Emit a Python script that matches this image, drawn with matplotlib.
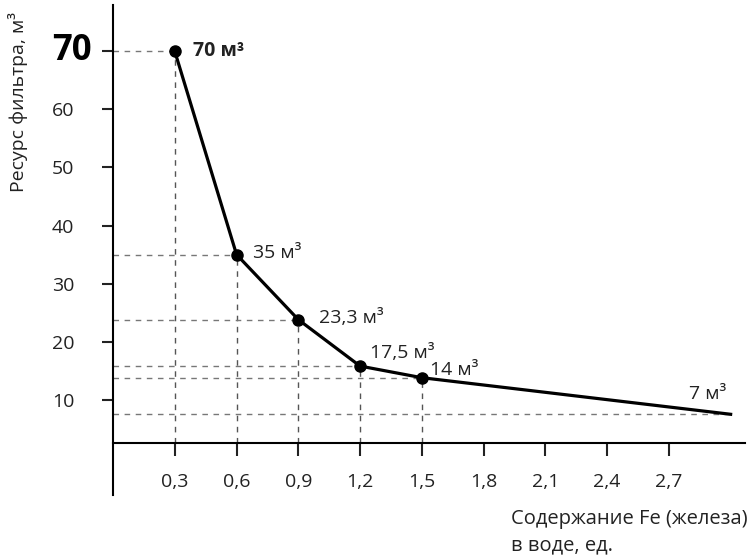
import matplotlib.pyplot as plt

plt.rcParams['font.family'] = ['Open Sans', 'DejaVu Sans']

# данные
fe = [0.3, 0.6, 0.9, 1.2, 1.5, 3.0]
resource = [70, 35, 23.8, 15.8, 13.8, 7.5]
point_labels = ['70 м³', '35 м³', '23,3 м³', '17,5 м³', '14 м³', '7 м³']
x_ticks = [0.3, 0.6, 0.9, 1.2, 1.5, 1.8, 2.1, 2.4, 2.7]
x_tick_labels = ['0,3', '0,6', '0,9', '1,2', '1,5', '1,8', '2,1', '2,4', '2,7']
y_ticks = [10, 20, 30, 40, 50, 60, 70]

fig = plt.figure(figsize=(7.5, 5.57), dpi=100)
ax = fig.add_axes([0.1507, 0.1113, 0.8427, 0.880])
ax.set_xlim(0, 3.07)
ax.set_ylim(-6.4, 78)

x_axis_y = 2.6

# пунктир
for x, y in zip(fe, resource):
    ax.plot([0, x], [y, y], ls=(0, (4, 4)), color='#777777', lw=1.0, zorder=1)
    if x < 3.0:
        ax.plot([x, x], [x_axis_y, y], ls=(0, (4, 4)), color='#555555', lw=1.0, zorder=1)

ax.plot(fe[:-1], resource[:-1], 'o', color='black', markersize=8, zorder=3)
ax.plot(fe, resource, '-', color='black', lw=2.3, zorder=2)

# подписи точек
offsets = [(0.09, 0, 'bold'), (0.08, 0.3, 'normal'), (0.1, 0.3, 'normal'),
           (0.05, 2.3, 'normal'), (0.04, 1.4, 'normal'), (-0.2, 3.5, 'normal')]
for x, y, txt, (dx, dy, w) in zip(fe, resource, point_labels, offsets):
    ax.text(x + dx, y + dy, txt, fontsize=14, fontweight=w, va='center', ha='left', color='#222222')

# оси
ax.spines['top'].set_visible(False)
ax.spines['right'].set_visible(False)
ax.spines['bottom'].set_position(('data', x_axis_y))
ax.spines['left'].set_linewidth(1.5)
ax.spines['bottom'].set_linewidth(1.5)

ax.set_xticks(x_ticks)
ax.set_xticklabels(x_tick_labels)
ax.tick_params(axis='x', direction='out', length=9, width=1.5, pad=13, labelsize=14, colors='#222222')
ax.set_yticks(y_ticks)
ax.set_yticklabels([str(v) for v in y_ticks[:-1]] + [''])
ax.tick_params(axis='y', direction='out', length=8, width=1.5, pad=20, labelsize=14, colors='#222222')
# крупная метка 70
ax.annotate(str(y_ticks[-1]), xy=(0, y_ticks[-1]), xycoords=('axes fraction', 'data'),
            xytext=(-21, 0), textcoords='offset pixels', ha='right', va='center',
            fontsize=25, fontweight='bold', color='black', annotation_clip=False)

fig.text(0.024, 0.817, 'Ресурс фильтра, м³', rotation=90, ha='center', va='center', fontsize=14, color='#222222')
fig.text(0.997, 0.045, 'Содержание Fe (железа)\nв воде, ед.', ha='right', va='center',
         multialignment='left', linespacing=1.4, fontsize=14.5, color='#222222')

fig.savefig('out.png', dpi=100)
